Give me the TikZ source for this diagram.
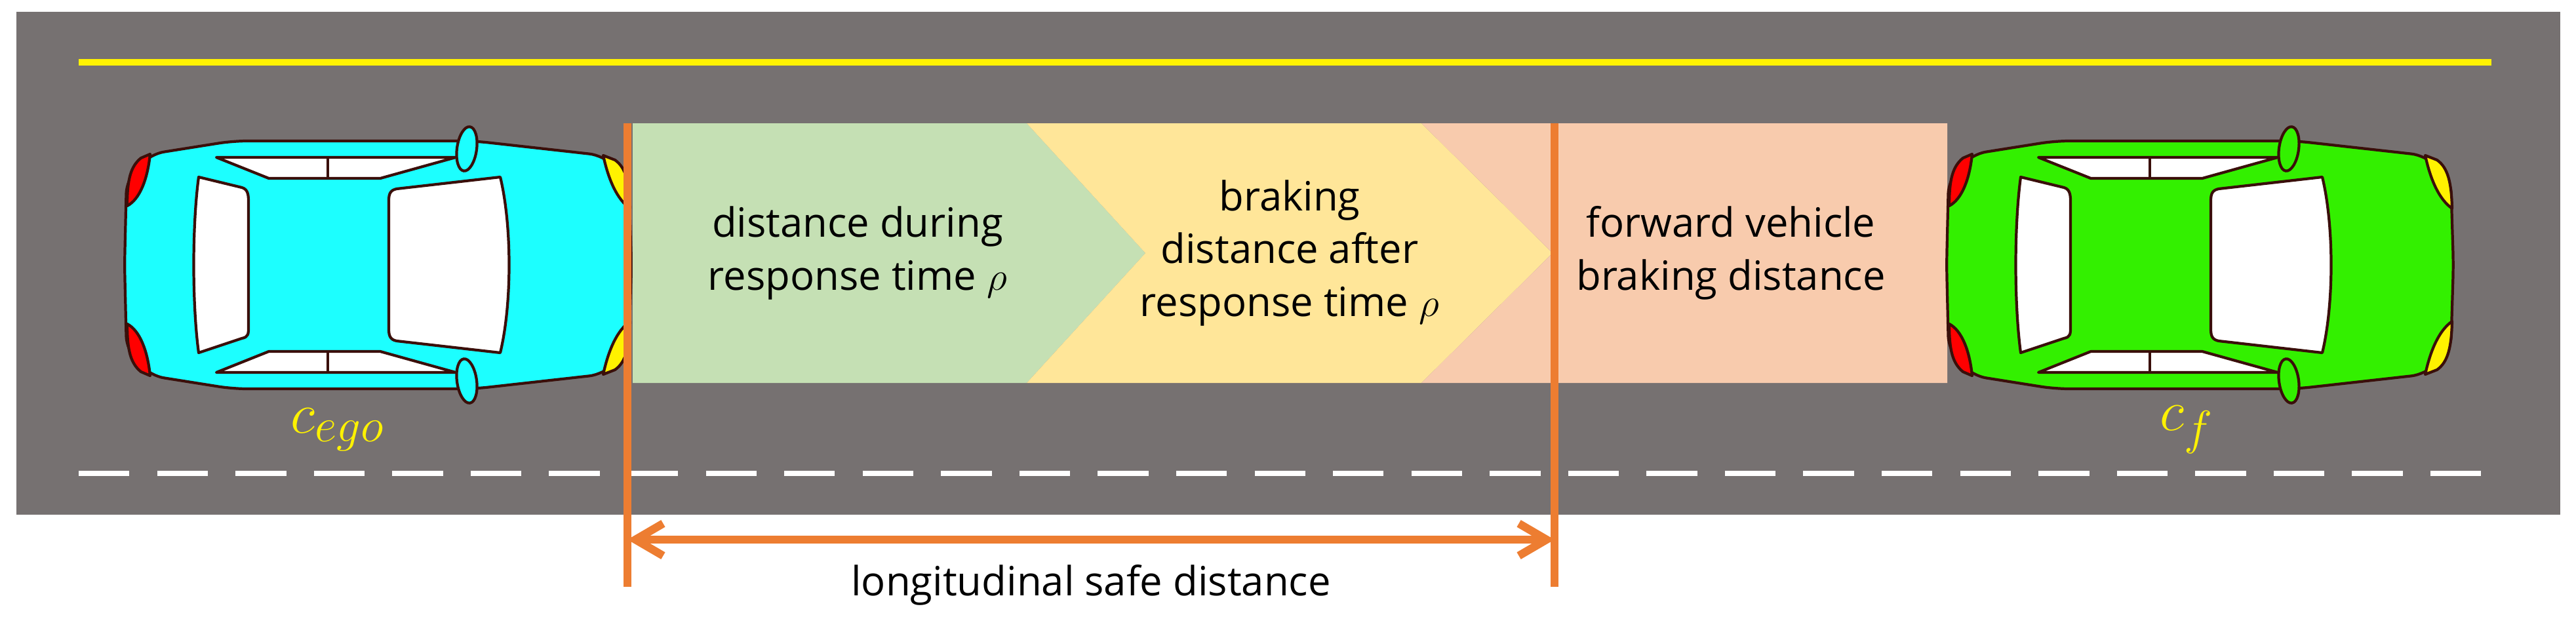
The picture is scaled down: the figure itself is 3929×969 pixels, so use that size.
\documentclass[tikz,border=0pt]{standalone}
\usepackage{fontspec}
\setmainfont{Open Sans}
\usetikzlibrary{arrows.meta}
\definecolor{road}{HTML}{767171}
\definecolor{gband}{HTML}{C5E0B4}
\definecolor{yband}{HTML}{FFE699}
\definecolor{pband}{HTML}{F8CBAD}
\definecolor{org}{HTML}{ED7D31}
\definecolor{outl}{HTML}{3A0F0A}
\definecolor{cyancar}{HTML}{1CFFFF}
\definecolor{greencar}{HTML}{33F000}
\tikzset{
  lbl/.style={font=\fontsize{17.5}{23}\selectfont, align=center, text=black},
  ol/.style={draw=outl, line width=1.2pt, line join=round},
  pics/car/.style={code={
    \path[ol, fill=#1, rounded corners=6pt] (36,-169) -- (162,-189) -- (530,-189) -- (727,-167) -- (766,-130) -- (770,0) -- (766,130) -- (727,167) -- (530,189) -- (162,189) -- (36,169) -- (0,130) -- (-3,0) -- (0,-130) -- cycle;
    \path[ol, fill=red] (22,-163) .. controls (6,-150) and (1,-130) .. (1,-90) .. controls (20,-100) and (32,-130) .. (36,-169) -- cycle;
    \path[ol, fill=red] (22,163) .. controls (6,150) and (1,130) .. (1,90) .. controls (20,100) and (32,130) .. (36,169) -- cycle;
    \path[ol, fill=yellow] (745,-160) .. controls (762,-148) and (767,-125) .. (768,-86) .. controls (748,-100) and (735,-130) .. (727,-167) -- cycle;
    \path[ol, fill=yellow] (745,160) .. controls (762,148) and (767,125) .. (768,86) .. controls (748,100) and (735,130) .. (727,167) -- cycle;
    \path[ol, fill=white] (110,-134) -- (176,-118) .. controls (186,-115) and (186,-105) .. (186,-95) -- (186,95) .. controls (186,105) and (186,110) .. (176,112) -- (110,134) .. controls (100,60) and (100,-60) .. (110,-134) -- cycle;
    \path[ol, fill=white] (412,-116) -- (570,-134) .. controls (588,-60) and (588,60) .. (570,134) -- (412,116) .. controls (402,114) and (400,108) .. (400,98) -- (400,-98) .. controls (400,-108) and (402,-114) .. (412,-116) -- cycle;
    \path[ol, fill=white] (137,-164) -- (502,-164) -- (387,-132) -- (217,-132) -- cycle;
    \path[ol, fill=white] (137,164) -- (502,164) -- (387,132) -- (217,132) -- cycle;
    \draw[ol] (307,-164) -- (307,-132) (307,164) -- (307,132);
    \path[ol, fill=#1, rotate around={-8:(519,-177)}] (519,-177) ellipse [x radius=15, y radius=34];
    \path[ol, fill=#1, rotate around={8:(519,177)}] (519,177) ellipse [x radius=15, y radius=34];
  }}
}
\begin{document}
\begin{tikzpicture}[x=0.01cm, y=-0.01cm]
\useasboundingbox (0,0) rectangle (3929,969);
\fill[road] (25,18) rectangle (3905,785);
\draw[yellow, line width=3pt] (120,95) -- (3800,95);
\draw[white, line width=2.5pt, dash pattern=on 22pt off 12pt] (120,722) -- (3800,722);
% bands
\fill[gband] (965,188) -- (1566,188) -- (1747,386) -- (1566,584) -- (965,584) -- cycle;
\fill[yband] (1566,188) -- (2168,188) -- (2368,386) -- (2168,584) -- (1566,584) -- (1747,386) -- cycle;
\fill[pband] (2168,188) -- (2970,188) -- (2970,584) -- (2168,584) -- (2368,386) -- cycle;
\node[lbl] (t1) at (1308,386) {distance during\\response time $\rho$};
\node[lbl] (t2) at (1967,386) {braking\\distance after\\response time $\rho$};
\node[lbl] (t3) at (2640,386) {forward vehicle\\braking distance};
% cars
\pic at (193,404) {car=cyancar};
\pic at (2972,404) {car=greencar};
\node[text=yellow, font=\fontsize{30}{30}\selectfont] (ce) at (515,655) {$c_{ego}$};
\node[text=yellow, font=\fontsize{30}{30}\selectfont] (cf) at (3335,655) {$c_f$};
% safe distance
\coordinate (l1t) at (957,188);
\coordinate (l1b) at (957,895);
\coordinate (l2t) at (2371,188);
\coordinate (l2b) at (2371,895);
\draw[org, line width=3.5pt] (l1t) -- (l1b);
\draw[org, line width=3.5pt] (l2t) -- (l2b);
\coordinate (a1) at (957,823);
\coordinate (a2) at (2371,823);
\draw[org, line width=3.5pt, {Straight Barb[length=12pt,width=14pt]}-{Straight Barb[length=12pt,width=14pt]}] (a1) -- (a2);
\node[lbl] (sd) at (1664,892) {longitudinal safe distance};
\end{tikzpicture}
\end{document}
